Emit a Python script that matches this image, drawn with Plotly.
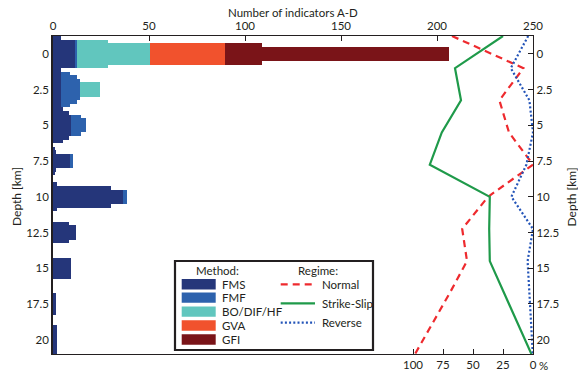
import plotly.graph_objects as go

# ---------------- data ----------------
depths = [0, 2.5, 5, 7.5, 10, 12.5, 15, 17.5, 20]
level_thickness = [2.5, 2.0, 1.5, 1.0]  # nested bar thickness (km), widest first

methods = ["FMS", "FMF", "BO/DIF/HF", "GVA", "GFI"]
method_colors = ["#25367a", "#2d62ad", "#61c6be", "#f1522d", "#7a1418"]

# counts per level (rows: levels widest -> narrowest), per depth
FMS = [
    [4, 4, 5.2, 0, 0, 0, 0, 0, 0],
    [11.3, 4, 8.2, 0.8, 1.9, 0, 0, 0, 2.3],
    [11.3, 4, 9.2, 1.7, 30.4, 8.2, 9.2, 1.4, 2.3],
    [11.3, 4, 9.2, 9.2, 36.5, 12.2, 9.2, 1.4, 2.3],
]
FMF = [
    [0, 4.7, 0, 0, 0, 0, 0, 0, 0],
    [1.2, 8.5, 0, 0, 0, 0, 0, 0, 0],
    [1.2, 9.9, 5.2, 0, 0, 0, 0, 0, 0],
    [1.2, 9.9, 8.2, 1.0, 1.8, 0, 0, 0, 0],
]
BO = [
    [0, 0, 0, 0, 0, 0, 0, 0, 0],
    [16.0, 0, 0, 0, 0, 0, 0, 0, 0],
    [37.9, 0, 0, 0, 0, 0, 0, 0, 0],
    [37.9, 10.4, 0, 0, 0, 0, 0, 0, 0],
]
GVA = [
    [0, 0, 0, 0, 0, 0, 0, 0, 0],
    [0, 0, 0, 0, 0, 0, 0, 0, 0],
    [39.4, 0, 0, 0, 0, 0, 0, 0, 0],
    [39.4, 0, 0, 0, 0, 0, 0, 0, 0],
]
GFI = [
    [0, 0, 0, 0, 0, 0, 0, 0, 0],
    [0, 0, 0, 0, 0, 0, 0, 0, 0],
    [19.3, 0, 0, 0, 0, 0, 0, 0, 0],
    [116.3, 0, 0, 0, 0, 0, 0, 0, 0],
]

regime_depth = [-1.25, 1.0, 3.25, 5.5, 7.75, 10.0, 12.25, 14.5, 16.75, 19.0, 21.25]
normal_pct = [67.5, 8, 28, 20, 0, 37.5, 59, 55, 69.5, 84.5, 100]
strike_pct = [25, 65, 60, 76, 86, 36, 36.5, 36, 24, 12, 0]
reverse_pct = [4, 18.5, 3, 0, 5.5, 18, 0, 4.5, 3, 1.5, 0]

count_ticks = [0, 50, 100, 150, 200, 250]
pct_ticks = [100, 75, 50, 25, 0]
depth_ticks = [0, 2.5, 5, 7.5, 10, 12.5, 15, 17.5, 20]
depth_ticktext = ["0", "2.5", "5", "7.5", "10", "12.5", "15", "17.5", "20"]

# ---------------- layout geometry ----------------
W, H = 578, 374
OFF = 0                  # body margin removed via post_script
ML, MT = 53, 36          # plot-area top-left in screenshot pixels
PW, PH = 480, 318        # plot-area size
FONT = "Lato"
TXT = "#231f20"
m_l, m_t = ML - OFF, MT - OFF
m_r, m_b = W - m_l - PW, H - m_t - PH


def px(x):
    return (x - ML) / PW


def py(y):
    return 1 - (y - MT) / PH


fig = go.Figure()

series = [FMS, FMF, BO, GVA, GFI]
for lvl, th in enumerate(level_thickness):
    base = [0.0] * len(depths)
    for m, (name, col) in enumerate(zip(methods, method_colors)):
        vals = series[m][lvl]
        fig.add_trace(go.Bar(
            orientation="h", y=depths, x=vals, base=list(base), width=th,
            marker=dict(color=col, line=dict(width=0)), name=name,
            showlegend=False, xaxis="x", yaxis="y", hoverinfo="skip"))
        base = [b + v for b, v in zip(base, vals)]

line_specs = [
    ("Normal", normal_pct, "#ee2a2e", "7px,5px", 2.2),
    ("Strike-Slip", strike_pct, "#1f9a4a", "solid", 2.2),
    ("Reverse", reverse_pct, "#2354b8", "2px,2.2px", 2.2),
]
for name, vals, col, dash, w in line_specs:
    fig.add_trace(go.Scatter(
        x=vals, y=regime_depth, mode="lines", name=name, showlegend=False,
        line=dict(color=col, dash=dash, width=w), xaxis="x2", yaxis="y2"))

axis_font = dict(family=FONT, size=11.5, color=TXT)

fig.update_layout(
    width=W, height=H, margin=dict(l=m_l, r=m_r, t=m_t, b=m_b, autoexpand=False),
    paper_bgcolor="white", plot_bgcolor="white", barmode="overlay",
    bargap=0, showlegend=False, font=axis_font,
    xaxis=dict(side="top", range=[0, 250], tickvals=count_ticks, ticks="inside",
               ticklen=5, tickcolor=TXT, showline=True, linecolor=TXT, linewidth=1.3,
               showgrid=False, zeroline=False, anchor="y", tickfont=axis_font,
               automargin=False),
    xaxis2=dict(side="bottom", overlaying="x", range=[400, 0], tickvals=pct_ticks,
                ticks="inside", ticklen=5, tickcolor=TXT, showline=True, linecolor=TXT,
                linewidth=1.3, showgrid=False, zeroline=False, anchor="y2",
                tickfont=axis_font, automargin=False),
    yaxis=dict(range=[21, -1.25], tickvals=depth_ticks, ticktext=depth_ticktext,
               ticks="", showline=True, linecolor=TXT, linewidth=1.5, showgrid=False,
               zeroline=False, anchor="x", tickfont=axis_font, automargin=False),
    yaxis2=dict(range=[21, -1.25], overlaying="y", side="right", tickvals=depth_ticks,
                ticktext=depth_ticktext, ticks="inside", ticklen=5, tickcolor=TXT,
                showline=True, linecolor=TXT, linewidth=1.3, showgrid=False,
                zeroline=False, anchor="x2", tickfont=axis_font, automargin=False),
)

ann = []
ann.append(dict(text="Number of indicators A-D", x=0.5, y=py(12.5), xref="paper", yref="paper",
                showarrow=False, font=dict(family=FONT, size=11.5, color=TXT),
                xanchor="center", yanchor="middle"))
ann.append(dict(text="Depth [km]", x=px(16), y=py(197), xref="paper", yref="paper",
                showarrow=False, textangle=-90, font=dict(family=FONT, size=12, color=TXT),
                xanchor="center", yanchor="middle"))
ann.append(dict(text="Depth [km]", x=px(570.5), y=py(197), xref="paper", yref="paper",
                showarrow=False, textangle=-90, font=dict(family=FONT, size=12, color=TXT),
                xanchor="center", yanchor="middle"))
ann.append(dict(text="%", x=px(543.5), y=py(365), xref="paper", yref="paper",
                showarrow=False, font=axis_font, xanchor="center", yanchor="middle"))

shapes = []
# legend box
shapes.append(dict(type="rect", xref="paper", yref="paper", x0=px(175), x1=px(373),
                   y0=py(261), y1=py(350), fillcolor="white",
                   line=dict(color=TXT, width=2.2), layer="above"))
ann.append(dict(text="Method:", x=px(217), y=py(270), xref="paper", yref="paper",
                showarrow=False, font=axis_font, xanchor="center", yanchor="middle"))
ann.append(dict(text="Regime:", x=px(317.5), y=py(270), xref="paper", yref="paper",
                showarrow=False, font=axis_font, xanchor="center", yanchor="middle"))
sw_y = [284.2, 297.6, 311.6, 325.5, 339.5]
for name, col, yc in zip(methods, method_colors, sw_y):
    shapes.append(dict(type="rect", xref="paper", yref="paper", x0=px(181.7), x1=px(215.7),
                       y0=py(yc + 5.2), y1=py(yc - 5.2), fillcolor=col,
                       line=dict(width=0), layer="above"))
    ann.append(dict(text=name, x=px(219.5), y=py(yc), xref="paper", yref="paper",
                    showarrow=False, font=axis_font, xanchor="left", yanchor="middle"))
ln_y = [284.3, 303.3, 322.7]
for (name, vals, col, dash, w), yc in zip(line_specs, ln_y):
    shapes.append(dict(type="line", xref="paper", yref="paper", x0=px(280.7), x1=px(315),
                       y0=py(yc), y1=py(yc), line=dict(color=col, width=w, dash=dash),
                       layer="above"))
    ann.append(dict(text=name, x=px(320), y=py(yc), xref="paper", yref="paper",
                    showarrow=False, font=axis_font, xanchor="left", yanchor="middle"))

fig.update_layout(annotations=ann, shapes=shapes)
fig.write_html(
    "out.html",
    config={"displayModeBar": False},
    post_script="document.body.style.margin='0';document.body.style.overflow='hidden';",
)
